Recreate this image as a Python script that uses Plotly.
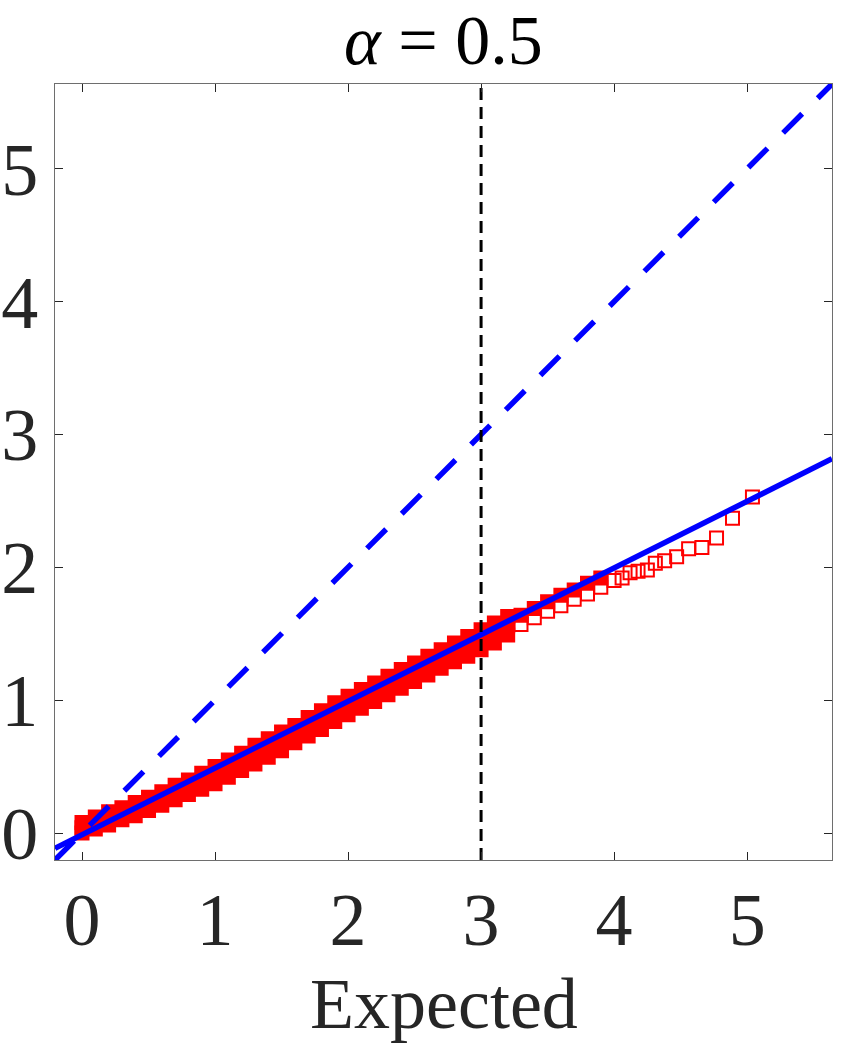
import plotly.graph_objects as go

# ---- data ----
band_x = [0.0, 0.1, 0.2, 0.3, 0.4, 0.5, 0.6, 0.7, 0.8, 0.9, 1.0, 1.1, 1.2, 1.3, 1.4, 1.5,
          1.6, 1.7, 1.8, 1.9, 2.0, 2.1, 2.2, 2.3, 2.4, 2.5, 2.6, 2.7, 2.8, 2.9, 3.0, 3.1, 3.2]
band_upper = [0.08, 0.12, 0.16, 0.19, 0.23, 0.27, 0.31, 0.36, 0.40, 0.45, 0.50, 0.55, 0.60,
              0.66, 0.71, 0.76, 0.81, 0.87, 0.92, 0.98, 1.03, 1.08, 1.13, 1.18, 1.23, 1.28,
              1.33, 1.38, 1.43, 1.48, 1.53, 1.58, 1.63]
band_middle = [0.04, 0.075, 0.11, 0.145, 0.18, 0.22, 0.26, 0.305, 0.345, 0.39, 0.435, 0.485,
               0.535, 0.59, 0.64, 0.69, 0.745, 0.80, 0.85, 0.91, 0.96, 1.01, 1.06, 1.11, 1.16,
               1.21, 1.26, 1.31, 1.36, 1.405, 1.455, 1.505, 1.56]
band_lower = [0.00, 0.03, 0.06, 0.10, 0.13, 0.17, 0.21, 0.25, 0.29, 0.33, 0.37, 0.42, 0.47,
              0.52, 0.57, 0.62, 0.68, 0.73, 0.78, 0.84, 0.89, 0.94, 0.99, 1.04, 1.09, 1.14,
              1.19, 1.24, 1.29, 1.33, 1.38, 1.43, 1.49]

upper_x = [3.3, 3.4, 3.5, 3.6, 3.7, 3.8, 3.9]
upper_y = [1.64, 1.69, 1.74, 1.79, 1.83, 1.88, 1.92]

open_x = [3.3, 3.4, 3.5, 3.6, 3.7, 3.8, 3.9, 4.0, 4.06, 4.12, 4.18, 4.25, 4.31, 4.38,
          4.47, 4.56, 4.66, 4.77, 4.89, 5.04]
open_y = [1.57, 1.62, 1.67, 1.71, 1.76, 1.80, 1.85, 1.90, 1.92, 1.96, 1.97, 1.98, 2.03, 2.05,
          2.08, 2.14, 2.15, 2.22, 2.37, 2.53]

fit_slope = 0.502
fit_intercept = -0.013
axis_range = [-0.203, 5.638]
threshold_x = 3.0
tick_vals = [0, 1, 2, 3, 4, 5]

RED = "#ff0000"
BLUE = "#0000ff"
FONT = "Liberation Serif"
TXT = "#262626"

fig = go.Figure()

solid_marker = dict(symbol="square", size=13, color=RED, line=dict(color=RED, width=2))
open_marker = dict(symbol="square-open", size=13, color=RED, line=dict(color=RED, width=2))

for ys in (band_lower, band_middle, band_upper):
    fig.add_trace(go.Scatter(x=band_x, y=ys, mode="markers", marker=solid_marker,
                             showlegend=False, hoverinfo="skip"))
fig.add_trace(go.Scatter(x=open_x, y=open_y, mode="markers", marker=open_marker,
                         showlegend=False))
fig.add_trace(go.Scatter(x=upper_x, y=upper_y, mode="markers", marker=solid_marker,
                         showlegend=False))

# y = x reference (dashed)
fig.add_trace(go.Scatter(x=axis_range, y=axis_range, mode="lines",
                         line=dict(color=BLUE, width=5.5, dash="27px,22px"),
                         showlegend=False))
# fitted line
fit_y = [fit_intercept + fit_slope * v for v in axis_range]
fig.add_trace(go.Scatter(x=axis_range, y=fit_y, mode="lines",
                         line=dict(color=BLUE, width=5.5), showlegend=False))
# vertical threshold
fig.add_trace(go.Scatter(x=[threshold_x, threshold_x], y=axis_range, mode="lines",
                         line=dict(color="black", width=3, dash="12px,7px"),
                         showlegend=False))

axis_common = dict(range=axis_range, tickvals=tick_vals, ticks="inside", ticklen=8,
                   tickcolor=TXT, tickwidth=1, showline=True, linecolor="#6e6e6e",
                   linewidth=1, mirror="ticks", showgrid=False, zeroline=False,
                   tickfont=dict(family=FONT, size=74, color=TXT), automargin=False)

fig.update_layout(
    width=841, height=1046,
    margin=dict(l=55, r=9, t=84, b=186),
    paper_bgcolor="white", plot_bgcolor="white",
    xaxis=dict(**axis_common, ticklabelstandoff=-5),
    yaxis=dict(**axis_common, ticklabelstandoff=1),
    annotations=[
        dict(text="Expected", x=0.5, y=-0.1856, xref="paper", yref="paper",
             showarrow=False, xanchor="center", yanchor="middle",
             font=dict(family=FONT, size=72, color=TXT)),
        dict(text="<i>α</i> = 0.5", x=0.5, y=1.0567, xref="paper", yref="paper",
             showarrow=False, xanchor="center", yanchor="middle",
             font=dict(family=FONT, size=70, color="black")),
    ],
)

fig.write_html("out.html")
